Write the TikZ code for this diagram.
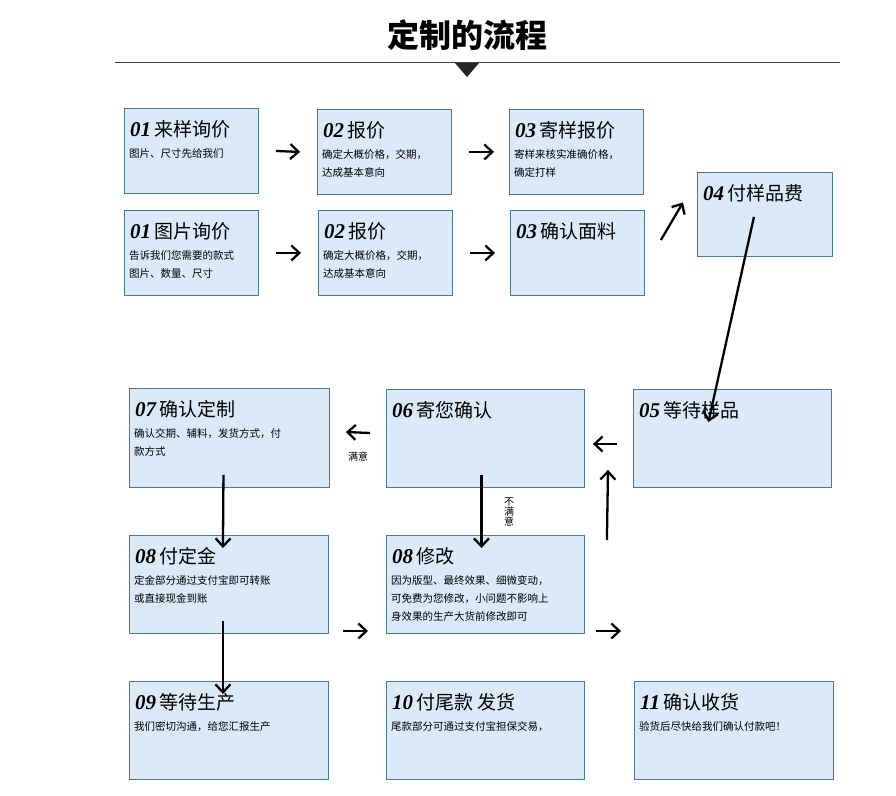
\documentclass[tikz,border=0pt]{standalone}
\usepackage{fontspec}
\setmainfont{Noto Sans CJK SC}
\newfontfamily\numf{Liberation Serif}
\usetikzlibrary{arrows.meta}
\definecolor{boxfill}{HTML}{DAEAF9}
\definecolor{boxline}{HTML}{4A7A8C}
\tikzset{
  bx/.style={draw=boxline,fill=boxfill,line width=0.9pt,anchor=north west,inner sep=0pt},
  hd/.style={anchor=north west,inner sep=0pt,font=\fontsize{19}{21}\selectfont},
  ds/.style={anchor=north west,inner sep=0pt,align=left,font=\fontsize{10.5}{18}\selectfont},
  ar/.style={-{Straight Barb[length=8pt,width=15pt]},line width=2.3pt,black},
  sm/.style={inner sep=0pt,font=\fontsize{10}{11}\selectfont}
}
\newcommand\nm[1]{{\numf\itshape\bfseries\fontsize{21}{21}\selectfont #1}\,}
\newcommand\bxx[7]{% name x1 y1 x2 y2 head desc
  \node[bx,minimum width=#4-#2,minimum height=#5-#3] (#1) at (#2,#3) {};
  \node[hd] (#1h) at ([xshift=6pt,yshift=-12pt]#1.north west) {#6};
  \node[ds] (#1d) at ([xshift=5pt,yshift=-40pt]#1.north west) {#7};}
\begin{document}
\begin{tikzpicture}[x=1pt,y=-1pt]
\useasboundingbox (0,0) rectangle (896,795);
\node[inner sep=0pt,font=\fontsize{32}{34}\selectfont\bfseries] (title) at (467,35) {定制的流程};
\coordinate (l1) at (115,62); \coordinate (l2) at (840,62);
\draw[line width=1pt,black!75] (l1) -- (l2);
\fill[black!85] (455,63) -- (479,63) -- (467,77) -- cycle;
\bxx{a1}{124}{108}{258}{193}{\nm{01}来样询价}{图片、尺寸先给我们}
\bxx{a2}{317}{109}{451}{194}{\nm{02}报价}{确定大概价格，交期，\\达成基本意向}
\bxx{a3}{509}{109}{643}{194}{\nm{03}寄样报价}{寄样来核实准确价格，\\确定打样}
\bxx{b1}{124}{210}{258}{295}{\nm{01}图片询价}{告诉我们您需要的款式\\图片、数量、尺寸}
\bxx{b2}{318}{210}{452}{295}{\nm{02}报价}{确定大概价格，交期，\\达成基本意向}
\bxx{b3}{510}{210}{644}{295}{\nm{03}确认面料}{}
\bxx{c4}{697}{172}{832}{256}{\nm{04}付样品费}{}
\bxx{r7}{129}{388}{329}{487}{\nm{07}确认定制}{确认交期、辅料，发货方式，付\\款方式}
\bxx{r6}{386}{389}{584}{487}{\nm{06}寄您确认}{}
\bxx{r5}{633}{389}{831}{487}{\nm{05}等待样品}{}
\bxx{s8}{129}{535}{328}{633}{\nm{08}付定金}{定金部分通过支付宝即可转账\\或直接现金到账}
\bxx{t8}{386}{535}{584}{633}{\nm{08}修改}{因为版型、最终效果、细微变动，\\可免费为您修改，小问题不影响上\\身效果的生产大货前修改即可}
\bxx{u9}{129}{681}{328}{779}{\nm{09}等待生产}{我们密切沟通，给您汇报生产}
\bxx{u10}{386}{681}{584}{779}{\nm{10}付尾款 发货}{尾款部分可通过支付宝担保交易，}
\bxx{u11}{634}{681}{833}{779}{\nm{11}确认收货}{验货后尽快给我们确认付款吧！}
\draw[ar] ([xshift=17pt]a1.east) -- ([xshift=-17pt]a2.west);
\draw[ar] ([xshift=17pt]a2.east) -- ([xshift=-15pt]a3.west);
\draw[ar] ([xshift=17pt]b1.east) -- ([xshift=-17pt]b2.west);
\draw[ar] ([xshift=17pt]b2.east) -- ([xshift=-15pt]b3.west);
\draw[ar] ([xshift=16pt,yshift=-30pt]b3.north east) -- ([xshift=-14pt,yshift=12pt]c4.west);
\draw[ar] ([xshift=-11pt,yshift=40pt]c4.south) -- ([xshift=-24pt,yshift=-33pt]r5.north);
\draw[ar] ([xshift=-16pt,yshift=-55pt]r5.north west) -- ([xshift=8pt,yshift=-55pt]r6.north east);
\draw[ar] ([xshift=-16pt,yshift=-44pt]r6.north west) -- ([xshift=16pt,yshift=-44pt]r7.north east);
\node[sm] (my) at (358,457) {满意};
\draw[ar] ([xshift=-6pt,yshift=13pt]r7.south) -- ([xshift=-6pt,yshift=-13pt]s8.north);
\draw[ar] ([xshift=-4pt,yshift=13pt]r6.south) -- ([xshift=-4pt,yshift=-13pt]t8.north);
\node[sm,align=center,font=\fontsize{10}{10}\selectfont] (bmy) at (509,512) {不\\满\\意};
\draw[ar] ([xshift=22pt,yshift=-5pt]t8.north east) -- ([xshift=-25pt,yshift=18pt]r5.south west);
\draw[ar] ([xshift=-6pt,yshift=13pt]s8.south) -- ([xshift=-6pt,yshift=-13pt]u9.north);
\draw[ar] ([xshift=14pt,yshift=50pt]u9.north east) -- ([xshift=-18pt,yshift=50pt]u10.north west);
\draw[ar] ([xshift=11pt,yshift=50pt]u10.north east) -- ([xshift=-13pt,yshift=50pt]u11.north west);
\end{tikzpicture}
\end{document}
